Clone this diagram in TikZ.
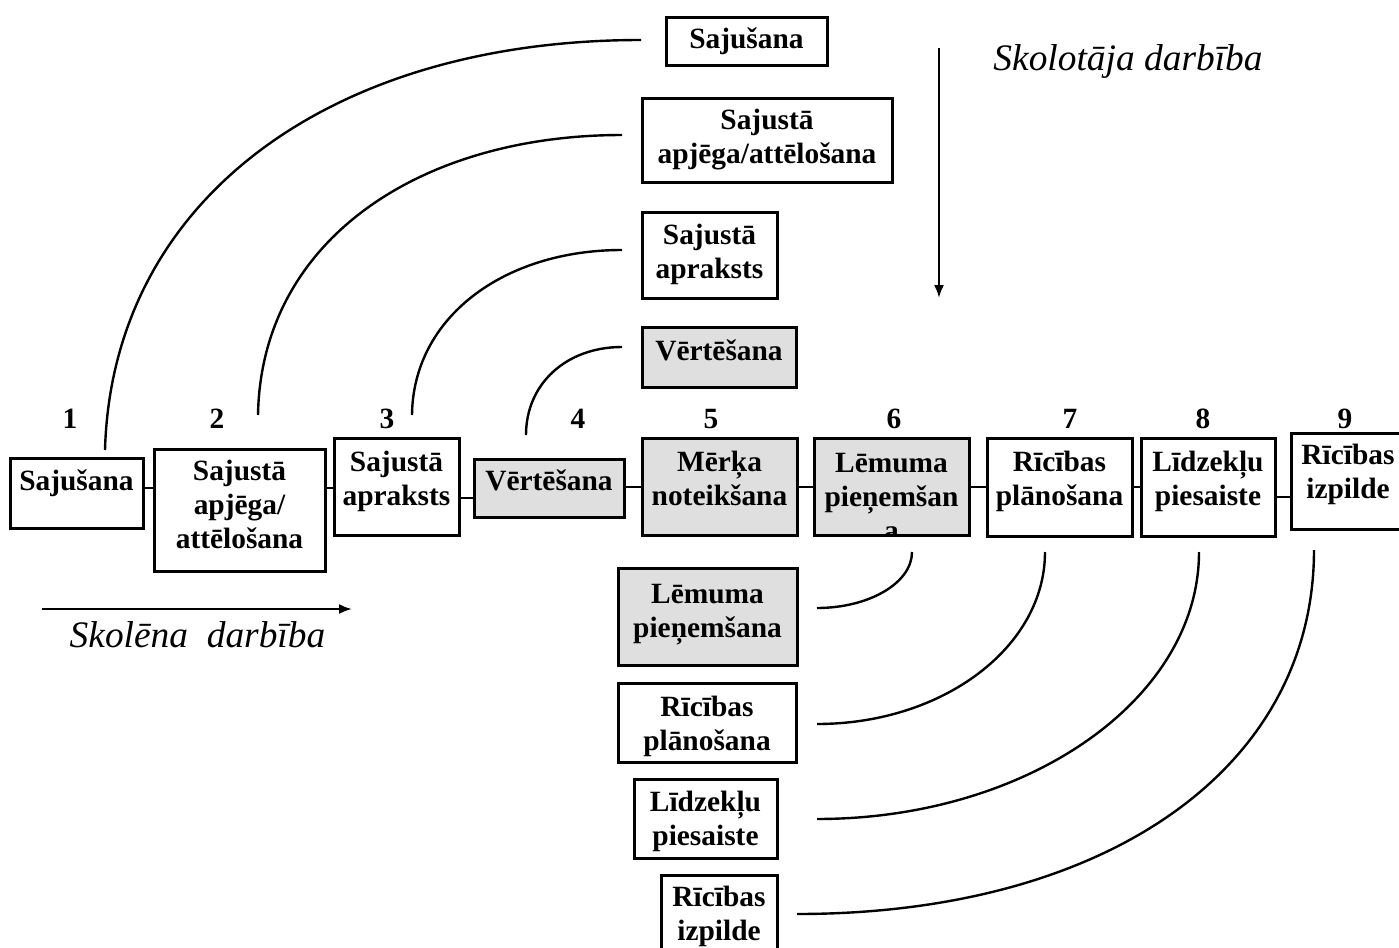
\documentclass[tikz,border=0pt]{standalone}
\usepackage{fontspec}
\setmainfont{Liberation Serif}
\usetikzlibrary{arrows.meta,fit}
\definecolor{boxgray}{RGB}{223,223,223}
\begin{document}
\begin{tikzpicture}[x=0.5pt,y=-0.5pt,
  bx/.style={draw, line width=1.5pt, inner sep=0pt, fill=white},
  gbx/.style={bx, fill=boxgray},
  txt/.style={font=\bfseries\fontsize{14.7}{17}\selectfont, align=center, inner sep=0pt, anchor=base},
  num/.style={font=\bfseries\fontsize{14.7}{17}\selectfont, inner sep=0pt, anchor=base},
  ital/.style={font=\itshape\fontsize{18.7}{22}\selectfont, inner sep=0pt, anchor=base},
  link/.style={line width=1.3pt},
  arc/.style={line width=1.2pt},
  arr/.style={line width=1.1pt, -{Latex[length=6.5pt,width=5pt]}}]
\useasboundingbox (0,0) rectangle (1399,948);

% ---------- main row boxes ----------
\node[bx,  fit={(10,458) (143,528)}] (b1) {};
\node[bx,  fit={(154,449) (325,571)}] (b2) {};
\node[bx,  fit={(334,438) (459,535)}] (b3) {};
\node[gbx, fit={(474,459) (624,517)}] (b4) {};
\node[gbx, fit={(642,438) (797,535)}] (b5) {};
\node[gbx, fit={(814,438) (969,535)}] (b6) {};
\node[bx,  fit={(987,438) (1132,536)}] (b7) {};
\node[bx,  fit={(1141,438) (1275,536)}] (b8) {};
\node[bx,  fit={(1291,433) (1406,529)}] (b9) {};

% (base anchor = baseline of the last line)
\node[txt] (b1t) at (76.5,490) {Sajušana};
\node[txt] (b2t) at (239.5,548) {Sajustā\\apjēga/\\attēlošana};
\node[txt] (b3t) at (396.5,505) {Sajustā\\apraksts};
\node[txt] (b4t) at (549,490) {Vērtēšana};
\node[txt] (b5t) at (719.5,505) {Mērķa\\noteikšana};
\begin{scope}
  \clip (815,439) rectangle (968,533.5);
  \node[txt] (b6t) at (891.5,540) {Lēmuma\\pieņemšan\\a};
\end{scope}
\node[txt] (b7t) at (1059.5,505) {Rīcības\\plānošana};
\node[txt] (b8t) at (1208,505) {Līdzekļu\\piesaiste};
\node[txt] (b9t) at (1348,498) {Rīcības\\izpilde};

% numbers
\node[num] (n1) at (70,428) {1};
\node[num] (n2) at (217,428) {2};
\node[num] (n3) at (387,428) {3};
\node[num] (n4) at (578,428) {4};
\node[num] (n5) at (711,428) {5};
\node[num] (n6) at (894,428) {6};
\node[num] (n7) at (1070,428) {7};
\node[num] (n8) at (1203,428) {8};
\node[num] (n9) at (1345,428) {9};

% main row links
\draw[link] (b1.east |- 0,488) -- (b2.west |- 0,488);
\draw[link] (b2.east |- 0,488) -- (b3.west |- 0,488);
\draw[link] (b3.east |- 0,498) -- (b4.west |- 0,498);
\draw[link] (b4.east |- 0,487) -- (b5.west |- 0,487);
\draw[link] (b5.east |- 0,487) -- (b6.west |- 0,487);
\draw[link] (b6.east |- 0,487) -- (b7.west |- 0,487);
\draw[link] (b7.east |- 0,487) -- (b8.west |- 0,487);
\draw[link] (b8.east |- 0,497) -- (b9.west |- 0,497);

% ---------- top boxes ----------
\node[bx,  fit={(666,17) (827,65)}] (t1) {};
\node[bx,  fit={(642,98) (892,182)}] (t2) {};
\node[bx,  fit={(642,212) (777,298)}] (t3) {};
\node[gbx, fit={(642,327) (796,387)}] (t4) {};
\node[txt] (t1t) at (746.5,48) {Sajušana};
\node[txt] (t2t) at (767,163) {Sajustā\\apjēga/attēlošana};
\node[txt] (t3t) at (709.5,278) {Sajustā\\apraksts};
\node[txt] (t4t) at (719,360) {Vērtēšana};

% ---------- bottom boxes ----------
\node[gbx, fit={(618,568) (797,665)}] (l1) {};
\node[bx,  fit={(618,683) (796,762)}] (l2) {};
\node[bx,  fit={(634,779) (777,858)}] (l3) {};
\node[bx,  fit={(661,875) (777,960)}] (l4) {};
\node[txt] (l1t) at (707.5,637) {Lēmuma\\pieņemšana};
\node[txt] (l2t) at (707,750) {Rīcības\\plānošana};
\node[txt] (l3t) at (705.5,845) {Līdzekļu\\piesaiste};
\node[txt] (l4t) at (719,940) {Rīcības\\izpilde};

% ---------- arcs (top) ----------
\coordinate (c1s) at (105,450); \coordinate (c1e) at (641,40);
\coordinate (c2s) at (258,415); \coordinate (c2e) at (622,135);
\coordinate (c3s) at (412,415); \coordinate (c3e) at (622,250);
\coordinate (c4s) at (526,435); \coordinate (c4e) at (622,347);
\draw[arc] (c1s) .. controls (112,200) and (330,40) .. (c1e);
\draw[arc] (c2s) .. controls (261,240) and (420,135) .. (c2e);
\draw[arc] (c3s) .. controls (413,318) and (503,250) .. (c3e);
\draw[arc] (c4s) .. controls (526,384) and (566,347) .. (c4e);

% ---------- arcs (bottom) ----------
\coordinate (d1s) at (912,552); \coordinate (d1e) at (817,608);
\coordinate (d2s) at (1045,552); \coordinate (d2e) at (817,724);
\coordinate (d3s) at (1199,552); \coordinate (d3e) at (817,819);
\coordinate (d4s) at (1314,550); \coordinate (d4e) at (797,914);
\draw[arc] (d1s) .. controls (912,583) and (869,608) .. (d1e);
\draw[arc] (d2s) .. controls (1045,647) and (943,724) .. (d2e);
\draw[arc] (d3s) .. controls (1199,699) and (1028,819) .. (d3e);
\draw[arc] (d4s) .. controls (1314,768) and (1107,914) .. (d4e);

% ---------- direction arrows ----------
\coordinate (sa1) at (42,609); \coordinate (sa2) at (352,609);
\coordinate (ta1) at (939,48); \coordinate (ta2) at (939,298);
\draw[arr] (sa1) -- (sa2);
\draw[arr] (ta1) -- (ta2);
\node[ital] (slab) at (197.5,647) {Skolēna~~darbība};
\node[ital] (tlab) at (1128,70) {Skolotāja darbība};
\end{tikzpicture}
\end{document}
